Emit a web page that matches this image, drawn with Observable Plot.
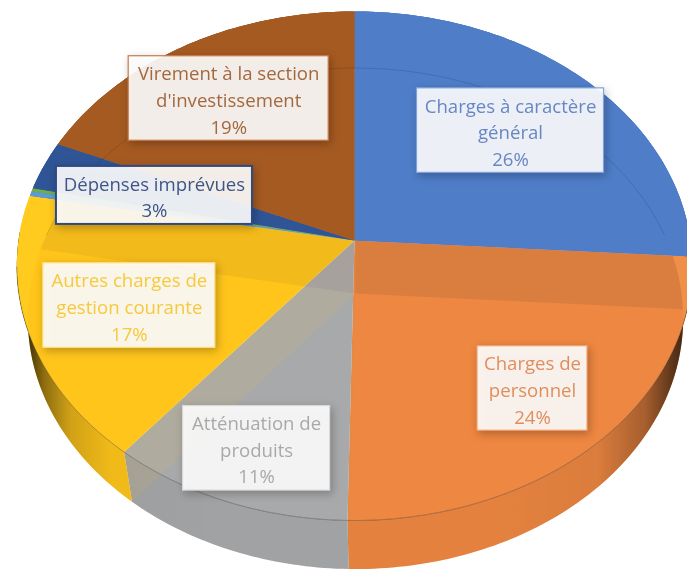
<!DOCTYPE html>
<html><head><meta charset="utf-8">
<script src="https://cdn.jsdelivr.net/npm/d3@7"></script>
<script src="https://cdn.jsdelivr.net/npm/@observablehq/plot@0.6"></script>
<style>
html,body{margin:0;padding:0;background:#fff}
svg{display:block}
.box rect{filter:drop-shadow(2px 3px 4px rgba(0,0,0,.28))}
.txt text{filter:blur(.3px)}
</style></head><body><div id="chart"></div>
<script>
// ---- data
const categories = ["Charges à caractère général","Charges de personnel","Atténuation de produits","Autres charges de gestion courante","Sliver A","Sliver B","Dépenses imprévues","Virement à la section d'investissement"];
const shares = [26, 24.3, 10.6, 17, 0.3, 0.2, 3.1, 18.5];
const labels = ["Charges à caractère\ngénéral\n26%","Charges de\npersonnel\n24%","Atténuation de\nproduits\n11%","Autres charges de\ngestion courante\n17%",null,null,"Dépenses imprévues\n3%","Virement à la section\nd'investissement\n19%"];
// ---- styles
const faceColors = ["#4F7DC8","#F08F48","#AFB0B2","#FFCB1E","#5B9BD5","#70AD47","#2F5597","#A55A22"];
const underColors = ["#4F1010","#F08F48","#AFB0B2","#FFCB1E","#A55A22","#A55A22","#A55A22","#A55A22"];
const backSlices = [true,false,false,false,true,true,true,true];
const textColors = ["#6787C4","#DF8E5C","#A9A9A9","#F6C93F",null,null,"#3F5588","#A4683F"];
const strokeColors = ["#7FA3DC","#F0A070","#D8D8D8","#FFE08A",null,null,"#2F4A80","#C9794A"];
const labelRadius = [0.666,0.747,0.808,0.70,0,0,0.633,0.717];
const labelTurn = [0,0.6,-0.7,-0.9,0,0,-1.1,-0.3];
const boxWidth = [187,110,147,172,0,0,196,200];
const topFace = {cx:354,cy:240,a:336,b:252,k:0.1};
const lowFace = {cx:355,cy:293,a:326,b:248,k:0.1};

function project(p,deg,r=1){
  const t=deg*Math.PI/180,u=r*Math.sin(t),v=-r*Math.cos(t),d=1-p.k*v;
  return {x:p.cx+p.a*u/d,y:p.cy+p.b*v/d};
}
const slices=[];let cum=0;
categories.forEach((name,i)=>{const a0=cum/100*360;cum+=shares[i];slices.push({name,i,a0,a1:cum/100*360,color:faceColors[i],under:underColors[i],back:backSlices[i]});});
const arc=(p,a0,a1)=>{const n=Math.max(2,Math.ceil(Math.abs(a1-a0)));return d3.range(n+1).map(j=>project(p,a0+(a1-a0)*j/n));};
const wedge=(p,list=slices,field="color")=>list.flatMap(s=>[project(p,0,0),...arc(p,s.a0,s.a1)].map(q=>({...q,key:s.name,color:s[field]})));
const walls=slices.flatMap(s=>[...arc(topFace,s.a0,s.a1),...arc(lowFace,s.a1,s.a0)].map(q=>({...q,key:s.name,color:s.color})));
const shade=[...arc(topFace,88,272),...arc(lowFace,272,88)];
const rim=arc(topFace,96,264);
const backArc=arc(lowFace,-76,76);

const boxes=slices.filter(s=>labels[s.i]).map(s=>{
  const mid=(s.a0+s.a1)/2+labelTurn[s.i],c=project(topFace,mid,labelRadius[s.i]);
  const lines=labels[s.i].split("\n").length,h=lines*26.5+5,w=boxWidth[s.i];
  return {x:c.x,y:c.y,x1:c.x-w/2,x2:c.x+w/2,y1:c.y-h/2,y2:c.y+h/2,text:labels[s.i],tc:textColors[s.i],sc:strokeColors[s.i],sw:s.name==="Dépenses imprévues"?2:1.2};
});

const gradient=()=>{
  const ns="http://www.w3.org/2000/svg";
  const defs=document.createElementNS(ns,"defs"),g=document.createElementNS(ns,"linearGradient");
  g.setAttribute("id","wallShade");
  [[0,.85],[.02,.7],[.04,.45],[.08,.18],[.14,.06],[.3,.04],[.7,.04],[.86,.08],[.93,.3],[.97,.6],[1,.8]].forEach(([o,a])=>{
    const st=document.createElementNS(ns,"stop");st.setAttribute("offset",o);st.setAttribute("stop-color","#000");st.setAttribute("stop-opacity",a);g.appendChild(st);});
  defs.appendChild(g);return defs;
};

const chart=Plot.plot({
  width:687,height:570,margin:0,
  x:{domain:[0,687],range:[0,687],axis:null},
  y:{domain:[0,570],range:[0,570],axis:null},
  color:{type:"identity"},
  style:{background:"#fff"},
  marks:[
    gradient,
    Plot.line(walls,{x:"x",y:"y",z:"key",fill:"color",stroke:"none"}),
    Plot.line(shade,{x:"x",y:"y",fill:"url(#wallShade)",stroke:"none"}),
    Plot.line(wedge(topFace),{x:"x",y:"y",z:"key",fill:"color",stroke:"none"}),
    Plot.line(wedge(lowFace,slices,"under"),{x:"x",y:"y",z:"key",fill:"color",fillOpacity:0.13,stroke:"none",mixBlendMode:"multiply"}),
    Plot.line(wedge(topFace,slices.filter(s=>s.back)),{x:"x",y:"y",z:"key",fill:"color",stroke:"none"}),
    Plot.line(backArc,{x:"x",y:"y",stroke:"#000",strokeOpacity:0.13,strokeWidth:1,fill:"none"}),
    Plot.line(rim,{x:"x",y:"y",stroke:"#000",strokeOpacity:0.3,strokeWidth:1,fill:"none"}),
    Plot.rect(boxes,{x1:"x1",x2:"x2",y1:"y1",y2:"y2",fill:"#fff",fillOpacity:0.9,stroke:"sc",strokeWidth:"sw",className:"box"}),
    Plot.text(boxes,{x:"x",y:"y",text:"text",fill:"tc",fontFamily:"Open Sans",fontSize:18.6,lineHeight:1.43,lineAnchor:"middle",textAnchor:"middle",className:"txt"})
  ]
});
document.getElementById("chart").appendChild(chart);
</script></body></html>
